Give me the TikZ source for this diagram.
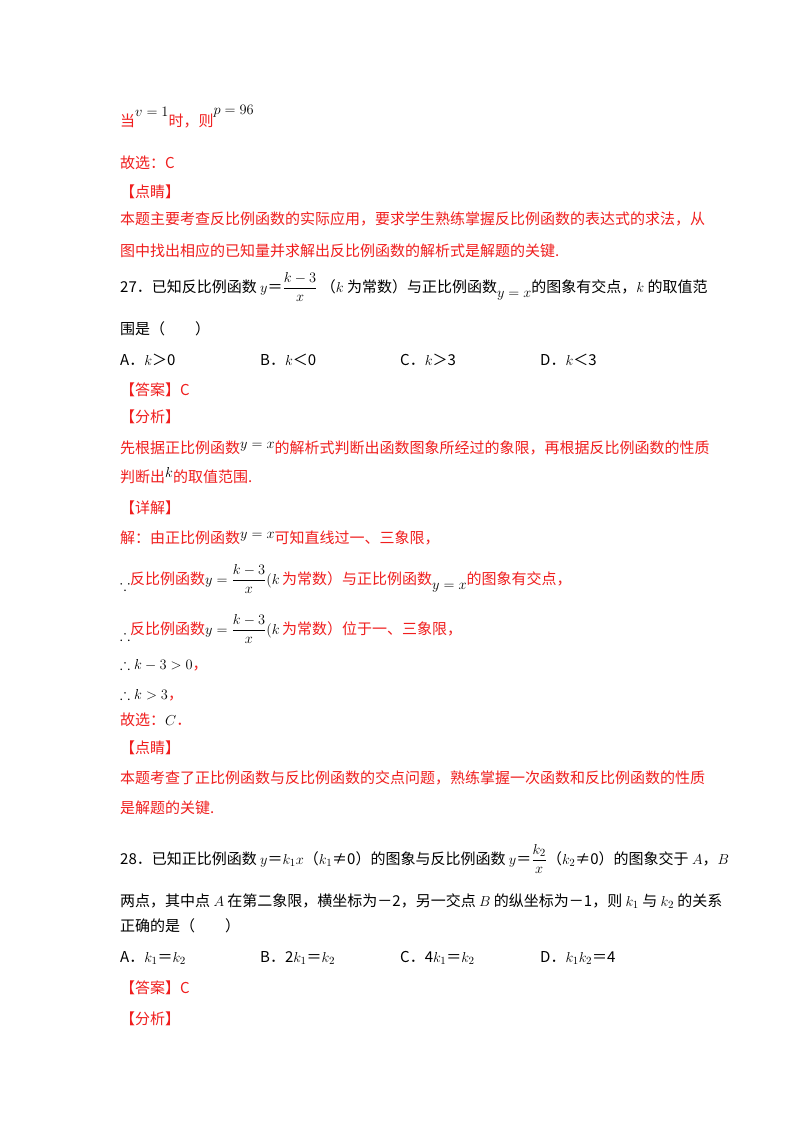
\documentclass[tikz,border=0pt]{standalone}
\usepackage{amsmath,amssymb}
\usepackage{fontspec}
\setmainfont{Noto Sans CJK SC}
\newfontfamily\cjk{Noto Sans CJK SC}
\definecolor{ans}{RGB}{240,30,30}
\begin{document}
\begin{tikzpicture}[x=1pt,y=-1pt]
\tikzset{ln/.style={anchor=base west,inner sep=0pt,font=\fontsize{15}{18}\selectfont},
 rd/.style={ln,text=ans}, bk/.style={ln,text=black}}
\useasboundingbox (0,0) rectangle (800,1132);
\fill[white] (0,0) rectangle (800,1132);
\node[rd] (l1) at (120,126) {当\raisebox{10pt}{\textcolor{black}{$v=1$}}时，则\raisebox{12pt}{\textcolor{black}{$p=96$}}};
\node[rd] (l2) at (120,168) {故选：C};
\node[rd] (l3) at (120,197) {【点睛】};
\node[rd] (l4) at (120,224) {本题主要考查反比例函数的实际应用，要求学生熟练掌握反比例函数的表达式的求法，从};
\node[rd] (l5) at (120,256) {图中找出相应的已知量并求解出反比例函数的解析式是解题的关键.};
\node[bk] (l6) at (120,292) {27．已知反比例函数 $y$＝$\dfrac{k-3}{x}$ （$k$ 为常数）与正比例函数\raisebox{-5pt}{$y=x$}的图象有交点，$k$ 的取值范};
\node[bk] (l7) at (120,334) {围是（\qquad ）};
\node[bk] (a1) at (120,365) {A．$k$＞0};
\node[bk] (a2) at (260,365) {B．$k$＜0};
\node[bk] (a3) at (400,365) {C．$k$＞3};
\node[bk] (a4) at (540,365) {D．$k$＜3};
\node[rd] (l8) at (120,395) {【答案】C};
\node[rd] (l9) at (120,422) {【分析】};
\node[rd] (l10) at (120,453) {先根据正比例函数\raisebox{5pt}{\textcolor{black}{$y=x$}}的解析式判断出函数图象所经过的象限，再根据反比例函数的性质};
\node[rd] (l11) at (120,482) {判断出\raisebox{5pt}{\textcolor{black}{$k$}}的取值范围.};
\node[rd] (l12) at (120,513) {【详解】};
\node[rd] (l13) at (120,543) {解：由正比例函数\raisebox{5pt}{\textcolor{black}{$y=x$}}可知直线过一、三象限，};
\node[rd] (l14) at (120,584) {\raisebox{-6pt}{\textcolor{black}{$\because$}}反比例函数\textcolor{black}{$y=\dfrac{k-3}{x}(k$}\,为常数）与正比例函数\raisebox{-5pt}{\textcolor{black}{$y=x$}}的图象有交点，};
\node[rd] (l15) at (120,634) {\raisebox{-6pt}{\textcolor{black}{$\therefore$}}反比例函数\textcolor{black}{$y=\dfrac{k-3}{x}(k$}\,为常数）位于一、三象限，};
\node[rd] (l16) at (120,669) {\textcolor{black}{$\therefore k-3>0$}，};
\node[rd] (l17) at (120,699) {\textcolor{black}{$\therefore k>3$}，};
\node[rd] (l18) at (120,725) {故选：\textcolor{black}{$C$}．};
\node[rd] (l19) at (120,753) {【点睛】};
\node[rd] (l20) at (120,783) {本题考查了正比例函数与反比例函数的交点问题，熟练掌握一次函数和反比例函数的性质};
\node[rd] (l21) at (120,813) {是解题的关键.};
\node[bk] (l22) at (120,864) {28．已知正比例函数 $y$＝$k_1x$（$k_1$≠0）的图象与反比例函数 $y$＝$\dfrac{k_2}{x}$（$k_2$≠0）的图象交于 $A$，$B$};
\node[bk] (l23) at (120,906) {两点，其中点 $A$ 在第二象限，横坐标为－2，另一交点 $B$ 的纵坐标为－1，则 $k_1$ 与 $k_2$ 的关系};
\node[bk] (l24) at (120,931) {正确的是（\qquad ）};
\node[bk] (b1) at (120,962) {A．$k_1$＝$k_2$};
\node[bk] (b2) at (260,962) {B．2$k_1$＝$k_2$};
\node[bk] (b3) at (400,962) {C．4$k_1$＝$k_2$};
\node[bk] (b4) at (540,962) {D．$k_1k_2$＝4};
\node[rd] (l25) at (120,993) {【答案】C};
\node[rd] (l26) at (120,1024) {【分析】};
\end{tikzpicture}
\end{document}
